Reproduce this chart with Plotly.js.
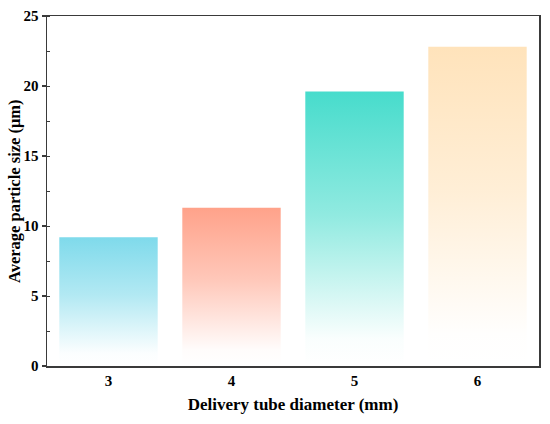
<!DOCTYPE html>
<html>
<head>
<meta charset="utf-8">
<script src="https://cdn.plot.ly/plotly-3.0.1.min.js"></script>
<style>html,body{margin:0;padding:0;background:#fff;}</style>
</head>
<body>
<div id="chart" style="width:550px;height:424px;"></div>
<script>
const categories = ['3', '4', '5', '6'];
const particleSize = [9.2, 11.3, 19.6, 22.8];
const barColors = ['#7fdaeb', '#ffa28a', '#47dccc', '#ffe3bb'];
const yTicks = [0, 5, 10, 15, 20, 25];
const xTitle = 'Delivery tube diameter (mm)';
const yTitle = 'Average particle size (μm)';

const font = 'Liberation Serif, Times New Roman, serif';

const trace = {
  type: 'bar',
  x: categories,
  y: particleSize,
  marker: { color: barColors, line: { width: 0 } },
  width: 0.8,
  hoverinfo: 'x+y'
};

const layout = {
  width: 550,
  height: 424,
  margin: { l: 47, r: 11, t: 16, b: 58 },
  paper_bgcolor: '#ffffff',
  plot_bgcolor: '#ffffff',
  showlegend: false,
  font: { family: font, color: '#000', size: 15 },
  xaxis: {
    type: 'category',
    range: [-0.5, 3.5],
    showline: true, mirror: true, linecolor: '#3a3a3a', linewidth: 1.5,
    ticks: '', showgrid: false, zeroline: false,
    tickfont: { family: font, size: 15, color: '#000', weight: 'bold' },
    title: { text: '<b>' + xTitle + '</b>', font: { family: font, size: 17, color: '#000' }, standoff: 10 }
  },
  yaxis: {
    range: [0, 25],
    tickvals: yTicks,
    ticktext: yTicks.map(String),
    showline: true, mirror: true, linecolor: '#3a3a3a', linewidth: 1.5,
    ticks: 'outside', ticklen: 4, tickwidth: 1.2, tickcolor: '#3a3a3a',
    minor: { dtick: 2.5, ticks: 'inside', ticklen: 3, tickwidth: 1, tickcolor: '#3a3a3a', showgrid: false },
    showgrid: false, zeroline: false,
    tickfont: { family: font, size: 15, color: '#000', weight: 'bold' }
  },
  annotations: [{
    text: '<b>' + yTitle + '</b>',
    xref: 'paper', yref: 'paper', x: 0, y: 0.5,
    xanchor: 'center', yanchor: 'middle', xshift: -33,
    textangle: -90, showarrow: false,
    font: { family: font, size: 16.5, color: '#000' }
  }]
};

Plotly.newPlot('chart', [trace], layout, { displayModeBar: false, staticPlot: true }).then(function (gd) {
  const svg = gd.querySelector('svg.main-svg');
  const ns = 'http://www.w3.org/2000/svg';
  let defs = svg.querySelector('defs');
  if (!defs) { defs = document.createElementNS(ns, 'defs'); svg.insertBefore(defs, svg.firstChild); }
  const paths = gd.querySelectorAll('.barlayer .trace .point path');
  paths.forEach(function (p, i) {
    const id = 'barGrad' + i;
    const g = document.createElementNS(ns, 'linearGradient');
    g.setAttribute('id', id);
    g.setAttribute('x1', '0'); g.setAttribute('y1', '0');
    g.setAttribute('x2', '0'); g.setAttribute('y2', '1');
    const stops = [[0, 1], [0.45, 0.6], [0.9, 0.03], [1, 0]];
    stops.forEach(function (s) {
      const st = document.createElementNS(ns, 'stop');
      st.setAttribute('offset', s[0]);
      st.setAttribute('stop-color', barColors[i]);
      st.setAttribute('stop-opacity', s[1]);
      g.appendChild(st);
    });
    defs.appendChild(g);
    p.style.fill = 'url(#' + id + ')';
    p.style.fillOpacity = 1;
  });
});
</script>
</body>
</html>
